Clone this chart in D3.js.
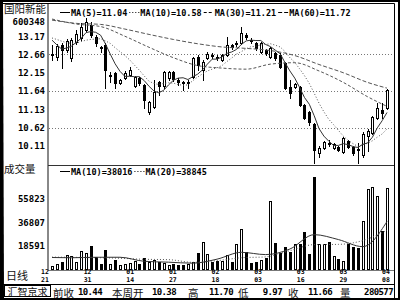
<!DOCTYPE html>
<html>
<head>
<meta charset="utf-8">
<script src="https://cdn.jsdelivr.net/npm/d3@7"></script>
<style>
  body { margin: 0; background: #fff; }
  svg { display: block; }
  .num { font-family: 'DejaVu Sans Mono', monospace; font-weight: bold; fill: #000; }
  .cjk { font-family: 'Noto Sans CJK SC', sans-serif; fill: #111; }
</style>
</head>
<body>
<div id="chart"></div>
<script>
const stockName = '国阳新能'
const stockCode = '600348'

// daily candles
const opens = [12.65, 12.59, 12.93, 12.79, 12.56, 13.01, 13.12, 13.34, 13.48, 13.15,
  12.87, 12.93, 12.06, 12.14, 11.86, 12.00, 12.09, 11.78, 12.00, 11.81,
  11.05, 11.19, 11.89, 11.78, 12.00, 12.17, 11.95, 11.89, 11.86, 12.03,
  12.59, 12.23, 12.56, 12.65, 12.59, 12.51, 12.65, 12.93, 12.95, 12.98,
  13.20, 13.06, 12.98, 12.73, 12.79, 12.59, 12.70, 12.65, 12.42, 11.75,
  11.75, 11.75, 11.25, 11.05, 10.72, 9.91, 10.05, 10.19, 10.05, 10.08,
  9.94, 10.24, 10.08, 10.02, 9.85, 10.38, 10.47, 10.89, 11.11, 11.17]
const highs = [12.93, 12.95, 12.98, 13.09, 13.12, 13.34, 13.54, 13.68, 13.57, 13.20,
  12.90, 12.98, 12.17, 12.17, 11.98, 12.20, 12.31, 12.06, 12.03, 11.84,
  11.36, 11.95, 11.92, 12.20, 12.20, 12.20, 12.00, 11.92, 11.95, 12.59,
  12.65, 12.51, 12.73, 12.70, 12.65, 12.67, 13.15, 12.95, 13.04, 13.43,
  13.26, 13.12, 13.01, 13.01, 12.81, 12.87, 12.73, 12.70, 12.45, 11.95,
  11.86, 11.78, 11.28, 11.08, 10.75, 10.10, 10.24, 10.27, 10.19, 10.10,
  10.36, 10.27, 10.10, 10.19, 10.49, 10.58, 10.94, 11.30, 11.30, 11.70]
const lows = [12.51, 12.51, 12.28, 12.73, 12.48, 12.95, 13.06, 13.29, 13.15, 12.90,
  12.73, 11.72, 11.89, 11.72, 11.84, 11.98, 12.06, 11.75, 11.81, 11.17,
  11.00, 11.17, 11.53, 11.72, 11.95, 11.92, 11.81, 11.67, 11.72, 12.00,
  12.23, 11.95, 12.53, 12.56, 12.51, 12.48, 12.62, 12.81, 12.90, 12.95,
  13.09, 12.98, 12.79, 12.70, 12.65, 12.56, 12.51, 12.28, 11.70, 11.44,
  11.72, 11.22, 10.86, 10.69, 9.63, 9.80, 10.02, 10.10, 10.02, 9.96,
  9.91, 10.05, 9.85, 9.63, 9.80, 9.97, 10.44, 10.86, 10.89, 11.14]
const closes = [12.67, 12.90, 12.79, 13.04, 13.06, 13.23, 13.43, 13.57, 13.20, 12.98,
  12.84, 12.23, 12.09, 11.86, 11.95, 12.14, 12.23, 12.03, 11.86, 11.39,
  11.33, 11.61, 11.78, 12.17, 12.17, 11.98, 11.89, 11.86, 11.89, 12.56,
  12.37, 12.45, 12.67, 12.62, 12.56, 12.65, 12.93, 12.87, 12.98, 13.26,
  13.15, 13.04, 12.84, 12.98, 12.70, 12.84, 12.56, 12.31, 11.72, 11.58,
  11.84, 11.25, 10.89, 10.77, 9.99, 10.05, 10.22, 10.16, 10.16, 9.99,
  10.33, 10.08, 9.91, 9.99, 10.44, 10.52, 10.91, 11.17, 11.03, 11.66]
const volumes = [2770, 4360, 5940, 11480, 10690, 5940, 14650, 13070, 18610, 9900,
  4360, 15440, 4360, 7520, 3560, 4360, 5150, 6730, 4360, 9110,
  5940, 7520, 5940, 5150, 3560, 4360, 3560, 3560, 4360, 5940,
  13070, 21780, 12280, 5940, 6730, 6730, 11480, 5940, 20200, 32080,
  13860, 5150, 5940, 7520, 9110, 54250, 20990, 13070, 17820, 13860,
  20200, 20200, 29700, 12280, 73260, 20200, 20200, 21780, 10690, 8320,
  6730, 20200, 17820, 17030, 38410, 63760, 65340, 58210, 30490, 64550]

// moving average lines, one value per candle
const ma5 = [13.06, 12.93, 12.81, 12.84, 12.89, 13.00, 13.11, 13.27, 13.30, 13.28,
  13.20, 12.96, 12.67, 12.40, 12.19, 12.05, 12.05, 12.04, 12.04, 11.93,
  11.77, 11.64, 11.59, 11.66, 11.81, 11.94, 12.00, 12.01, 11.96, 12.04,
  12.11, 12.23, 12.39, 12.53, 12.53, 12.59, 12.69, 12.73, 12.80, 12.94,
  13.04, 13.06, 13.05, 13.05, 12.94, 12.88, 12.78, 12.68, 12.43, 12.20,
  12.00, 11.74, 11.46, 11.27, 10.95, 10.59, 10.38, 10.24, 10.12, 10.12,
  10.17, 10.14, 10.09, 10.06, 10.15, 10.19, 10.35, 10.61, 10.81, 11.04]
const ma10 = [13.12, 13.08, 13.03, 12.99, 12.97, 12.98, 13.02, 13.06, 13.08, 13.09,
  13.10, 13.04, 12.97, 12.85, 12.74, 12.63, 12.51, 12.36, 12.22, 12.06,
  11.91, 11.85, 11.82, 11.85, 11.87, 11.86, 11.82, 11.80, 11.81, 11.93,
  12.03, 12.12, 12.20, 12.25, 12.29, 12.35, 12.46, 12.56, 12.67, 12.74,
  12.82, 12.88, 12.89, 12.93, 12.94, 12.96, 12.92, 12.87, 12.74, 12.57,
  12.44, 12.26, 12.07, 11.85, 11.58, 11.30, 11.06, 10.85, 10.70, 10.54,
  10.38, 10.26, 10.17, 10.09, 10.14, 10.18, 10.25, 10.35, 10.44, 10.58]
// slow averages, read at every fifth candle: [candle, value]
const ma30 = [[0, 13.65], [5, 13.51], [10, 13.44], [15, 13.17], [20, 12.86], [25, 12.57], [30, 12.35],
  [35, 12.28], [40, 12.25], [45, 12.39], [50, 12.43], [55, 12.20], [60, 11.88], [65, 11.48], [69, 11.21]]
const ma60 = [[0, 13.62], [5, 13.53], [10, 13.50], [15, 13.37], [20, 13.22], [25, 13.08], [30, 12.96],
  [35, 12.87], [40, 12.83], [45, 12.77], [50, 12.63], [55, 12.38], [60, 12.15], [65, 11.88], [69, 11.72]]
const volMa10 = [[0, 9500], [4, 9300], [9, 9700], [14, 9700], [19, 6500], [24, 5800], [29, 5000], [34, 8200],
  [39, 13600], [44, 11800], [49, 16200], [54, 27600], [59, 23700], [64, 18100], [69, 38016]]
const volMa20 = [[0, 9800], [5, 9600], [10, 9300], [14, 8900], [19, 8100], [24, 7800], [29, 5700], [34, 7000],
  [39, 9300], [44, 10000], [49, 14900], [54, 19700], [59, 19900], [64, 22900], [69, 31000]]

const priceTicks = [13.17, 12.66, 12.15, 11.64, 11.13, 10.62, 10.11]
const gridTicks = [12.66, 11.64, 10.62]
const volumeTicks = [55823, 36807, 18591]
const dateTop = ['12', '12', '01', '01', '02', '03', '03', '03', '04']
const dateBottom = ['21', '31', '14', '27', '18', '03', '16', '29', '08']

const priceLegend = ['MA(5)=11.04', 'MA(10)=10.58', 'MA(30)=11.21', 'MA(60)=11.72']
const volumeLegend = ['MA(10)=38016', 'MA(20)=38845']
const footerLabels = ['前收', '本周开', '高', '低', '收', '量']
const footerValues = ['10.44', '10.38', '11.70', '9.97', '11.66', '280577']

// ---- layout
const W = 400
const H = 300
const left = 48
const right = 394
const priceTop = 4
const priceBottom = 165
const volTop = 165
const volBottom = 270

const dash = { ma5: null, ma10: '1,2', ma30: '3,2', ma60: '4,2' }
const lineColor = '#555'

const svg = d3
  .select('#chart')
  .append('svg')
  .attr('width', W)
  .attr('height', H)

svg.append('rect').attr('width', W).attr('height', H).attr('fill', '#fff')

const x = d3.scaleLinear().domain([0, closes.length - 1]).range([52, 387])
const y = d3.scaleLinear().domain([9.573, 14.07]).range([priceBottom, priceTop])
const yVol = d3.scaleLinear().domain([0, 82764]).range([volBottom - 0.5, volTop])
const xDate = d3.scalePoint().domain(d3.range(dateTop.length)).range([45, 386])

const px = i => Math.round(x(i)) + 0.5
const idx = d3.range(closes.length)
const isUp = i => closes[i] >= opens[i]

const defs = svg.append('defs')
defs.append('clipPath').attr('id', 'clip-price')
  .append('rect').attr('x', left + 1).attr('y', priceTop).attr('width', right - left - 1).attr('height', priceBottom - priceTop)
defs.append('clipPath').attr('id', 'clip-vol')
  .append('rect').attr('x', left + 1).attr('y', volTop + 1).attr('width', right - left - 1).attr('height', volBottom - volTop - 1)

// ---- frame
svg.append('rect').attr('x', 1).attr('y', 1).attr('width', W - 2).attr('height', H - 2)
  .attr('fill', 'none').attr('stroke', '#000').attr('stroke-width', 2)
svg.append('path')
  .attr('d', `M2,3.5H${right + 0.5}V298`)
  .attr('fill', 'none').attr('stroke', '#000')
svg.append('line').attr('x1', 2).attr('x2', 3).attr('y1', 2).attr('y2', 298)
  .attr('stroke', '#000').attr('stroke-width', 2)

svg.append('line').attr('x1', left).attr('x2', left).attr('y1', 4).attr('y2', volBottom)
  .attr('stroke', '#888').attr('stroke-width', 2)
svg.append('line').attr('x1', left).attr('x2', right).attr('y1', priceBottom + 0.5).attr('y2', priceBottom + 0.5)
  .attr('stroke', '#333')
svg.append('line').attr('x1', left).attr('x2', right).attr('y1', volBottom + 0.5).attr('y2', volBottom + 0.5)
  .attr('stroke', '#777')
svg.append('line').attr('x1', 2).attr('x2', right).attr('y1', 284.5).attr('y2', 284.5)
  .attr('stroke', '#000')

// ---- price panel
svg.append('g').selectAll('line').data(gridTicks).join('line')
  .attr('x1', left + 1).attr('x2', right)
  .attr('y1', d => Math.round(y(d)) + 0.5).attr('y2', d => Math.round(y(d)) + 0.5)
  .attr('stroke', '#777').attr('stroke-dasharray', '1,2')

const candles = svg.append('g').attr('clip-path', 'url(#clip-price)')
candles.selectAll('.wick').data(idx).join('line')
  .attr('class', 'wick')
  .attr('x1', px).attr('x2', px)
  .attr('y1', i => Math.round(y(highs[i])))
  .attr('y2', i => Math.round(y(lows[i])) + 1)
  .attr('stroke', '#000')
candles.selectAll('.body').data(idx).join('rect')
  .attr('class', 'body')
  .each(function (i) {
    const top = Math.round(y(Math.max(opens[i], closes[i])))
    const bot = Math.round(y(Math.min(opens[i], closes[i])))
    const r = d3.select(this)
    if (isUp(i)) {
      r.attr('x', px(i) - 1).attr('width', 2)
        .attr('y', top + 0.5).attr('height', Math.max(bot - top, 0))
        .attr('fill', '#fff').attr('stroke', '#000')
    } else {
      r.attr('x', px(i) - 1.5).attr('width', 3)
        .attr('y', top).attr('height', bot - top + 1)
        .attr('fill', '#000')
    }
  })

const priceLines = svg.append('g').attr('clip-path', 'url(#clip-price)').attr('fill', 'none')
const lineDaily = d3.line().x((d, i) => x(i)).y(d => y(d))
const lineSampled = d3.line().x(d => x(d[0])).y(d => y(d[1])).curve(d3.curveMonotoneX)
priceLines.append('path').attr('d', lineSampled(ma60)).attr('stroke', lineColor).attr('stroke-dasharray', dash.ma60)
priceLines.append('path').attr('d', lineSampled(ma30)).attr('stroke', lineColor).attr('stroke-dasharray', dash.ma30)
priceLines.append('path').attr('d', lineDaily(ma10)).attr('stroke', lineColor).attr('stroke-dasharray', dash.ma10)
priceLines.append('path').attr('d', lineDaily(ma5)).attr('stroke', '#333')

// ---- volume panel
const vol = svg.append('g').attr('clip-path', 'url(#clip-vol)')
vol.selectAll('rect').data(idx).join('rect')
  .each(function (i) {
    const top = Math.round(yVol(volumes[i]))
    const r = d3.select(this)
    if (isUp(i)) {
      r.attr('x', px(i) - 1).attr('width', 2)
        .attr('y', top + 0.5).attr('height', Math.max(volBottom - top - 1, 0))
        .attr('fill', '#fff').attr('stroke', '#000')
    } else {
      r.attr('x', px(i) - 1.5).attr('width', 3)
        .attr('y', top).attr('height', volBottom - top)
        .attr('fill', '#000')
    }
  })
const lineVol = d3.line().x(d => x(d[0])).y(d => yVol(d[1])).curve(d3.curveMonotoneX)
vol.append('path').attr('d', lineVol(volMa20)).attr('fill', 'none').attr('stroke', lineColor).attr('stroke-dasharray', '1,2')
vol.append('path').attr('d', lineVol(volMa10)).attr('fill', 'none').attr('stroke', '#333')

// ---- axes labels
function styleAxis(g) {
  g.select('.domain').remove()
  g.selectAll('text').attr('class', 'num').attr('fill', '#000').style('font-size', '9px')
}
svg.append('g').attr('transform', `translate(${left},0)`)
  .call(d3.axisLeft(y).tickValues(priceTicks).tickSize(0).tickPadding(3).tickFormat(d3.format('.2f')))
  .call(styleAxis)
svg.append('g').attr('transform', `translate(${left},0)`)
  .call(d3.axisLeft(yVol).tickValues(volumeTicks).tickSize(0).tickPadding(3).tickFormat(d3.format('d')))
  .call(styleAxis)

// two-row date ticks (month over day)
const dates = svg.append('g')
dates.selectAll('.d1').data(dateTop).join('text')
  .attr('class', 'num').attr('x', (d, k) => xDate(k)).attr('y', 274.3)
  .attr('text-anchor', 'middle').style('font-size', '6.5px').text(d => d)
dates.selectAll('.d2').data(dateBottom).join('text')
  .attr('class', 'num').attr('x', (d, k) => xDate(k)).attr('y', 282)
  .attr('text-anchor', 'middle').style('font-size', '6.5px').text(d => d)

// ---- left column
svg.append('text').attr('class', 'cjk').attr('x', 4).attr('y', 13).style('font-size', '10.5px').text(stockName)
svg.append('text').attr('class', 'num').attr('x', 45).attr('y', 25).attr('text-anchor', 'end')
  .style('font-size', '9px').text(stockCode)
svg.append('text').attr('class', 'cjk').attr('x', 4).attr('y', 173).style('font-size', '10.5px').attr('fill', '#333').text('成交量')
svg.append('text').attr('class', 'cjk').attr('x', 6).attr('y', 280).style('font-size', '11px').text('日线')

// ---- legends
function legend(items, dashes, startX, baseline) {
  let cx = startX
  items.forEach((t, k) => {
    svg.append('line')
      .attr('x1', cx).attr('x2', cx + 10)
      .attr('y1', baseline - 3.5).attr('y2', baseline - 3.5)
      .attr('stroke', '#000').attr('stroke-dasharray', dashes[k])
    const txt = svg.append('text').attr('class', 'num')
      .attr('x', cx + 11).attr('y', baseline).style('font-size', '8.5px').text(t)
    cx += 11 + txt.node().getComputedTextLength() + 2
  })
}
legend(priceLegend, [dash.ma5, dash.ma10, dash.ma30, dash.ma60], 60, 16)
legend(volumeLegend, [null, '1,2'], 60, 175)

// ---- footer
svg.append('rect').attr('x', 4.5).attr('y', 285.5).attr('width', 46).attr('height', 11)
  .attr('fill', 'none').attr('stroke', '#000')
svg.append('text').attr('class', 'cjk').attr('x', 27.5).attr('y', 296).attr('text-anchor', 'middle')
  .style('font-size', '10px').text('汇智京求')
const labelX = [53, 112, 188, 238, 288, 340]
const valueX = [102, 176, 233, 282, 332, 393]
svg.append('g').selectAll('text').data(footerLabels).join('text')
  .attr('class', 'cjk').attr('x', (d, k) => labelX[k]).attr('y', 296.5)
  .style('font-size', '10.5px').text(d => d)
svg.append('g').selectAll('text').data(footerValues).join('text')
  .attr('class', 'num').attr('x', (d, k) => valueX[k]).attr('y', 294.5)
  .attr('text-anchor', 'end').style('font-size', '9px').style('letter-spacing', '-0.6px').text(d => d)
</script>
</body>
</html>
